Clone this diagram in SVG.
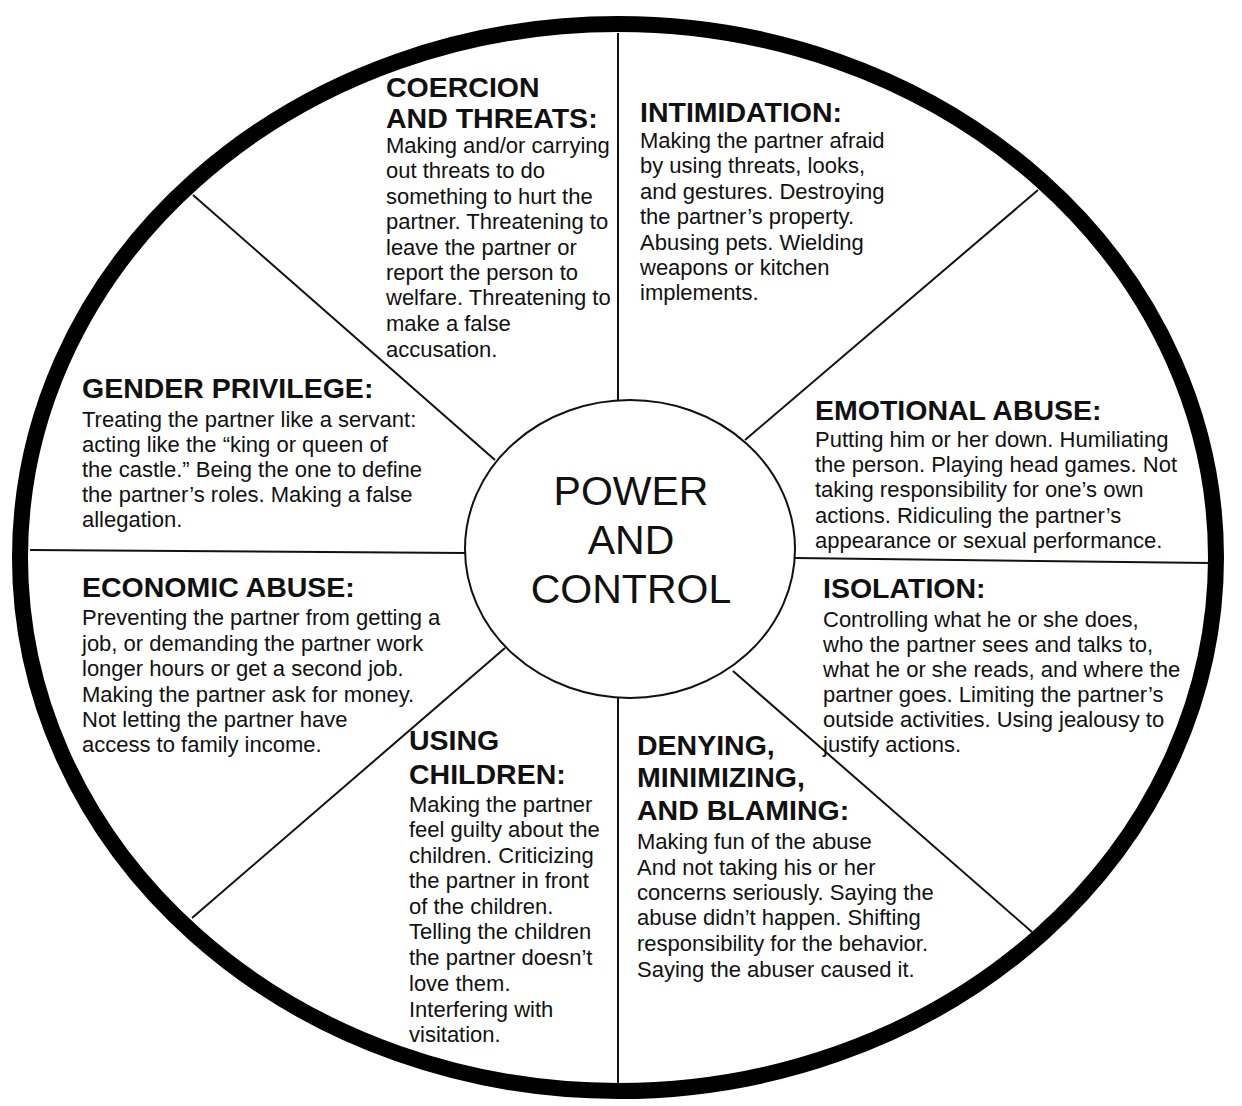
<svg xmlns="http://www.w3.org/2000/svg" width="1242" height="1106" viewBox="0 0 1242 1106">
<style>
.h{font-family:"Liberation Sans",Arial,sans-serif;font-weight:bold;font-size:28.5px;fill:#111}
.b{font-family:"Liberation Sans",Arial,sans-serif;font-size:22px;fill:#111}
.c{font-family:"Liberation Sans",Arial,sans-serif;font-size:41px;fill:#111;text-anchor:middle}
.sp{stroke:#111;stroke-width:2;fill:none}
</style>
<rect width="1242" height="1106" fill="#fff"/>
<g id="wheel">
<ellipse cx="618" cy="557.5" rx="598" ry="533.5" fill="none" stroke="#000" stroke-width="16"/>
</g>
<g id="connectors">
<line class="sp" x1="618" y1="33" x2="618" y2="400"/>
<line class="sp" x1="618" y1="698" x2="618" y2="1083"/>
<line class="sp" x1="30" y1="550" x2="465" y2="553"/>
<line class="sp" x1="795" y1="558" x2="1210" y2="563"/>
<line class="sp" x1="193" y1="195" x2="495" y2="460"/>
<line class="sp" x1="745" y1="440" x2="1038" y2="190"/>
<line class="sp" x1="505" y1="648" x2="192" y2="918"/>
<line class="sp" x1="733" y1="671" x2="1032" y2="932"/>
</g>
<g id="center">
<ellipse cx="630" cy="549" rx="165" ry="149" fill="#fff" stroke="#111" stroke-width="2"/>
<text class="c"><tspan x="631" y="505">POWER</tspan><tspan x="631" y="554">AND</tspan><tspan x="631" y="603">CONTROL</tspan></text>
</g>
<g id="coercion">
<text class="h"><tspan x="386" y="97">COERCION</tspan><tspan x="386" y="128">AND THREATS:</tspan></text>
<text class="b"><tspan x="386" y="153">Making and/or carrying</tspan><tspan x="386" y="178">out threats to do</tspan><tspan x="386" y="204">something to hurt the</tspan><tspan x="386" y="229">partner. Threatening to</tspan><tspan x="386" y="255">leave the partner or</tspan><tspan x="386" y="280">report the person to</tspan><tspan x="386" y="305">welfare. Threatening to</tspan><tspan x="386" y="331">make a false</tspan><tspan x="386" y="357">accusation.</tspan></text>
</g>
<g id="intimidation">
<text class="h"><tspan x="640" y="122">INTIMIDATION:</tspan></text>
<text class="b"><tspan x="640" y="148">Making the partner afraid</tspan><tspan x="640" y="173">by using threats, looks,</tspan><tspan x="640" y="199">and gestures. Destroying</tspan><tspan x="640" y="224">the partner’s property.</tspan><tspan x="640" y="250">Abusing pets. Wielding</tspan><tspan x="640" y="275">weapons or kitchen</tspan><tspan x="640" y="300">implements.</tspan></text>
</g>
<g id="emotional">
<text class="h"><tspan x="815" y="420">EMOTIONAL ABUSE:</tspan></text>
<text class="b"><tspan x="815" y="447">Putting him or her down. Humiliating</tspan><tspan x="815" y="472">the person. Playing head games. Not</tspan><tspan x="815" y="497">taking responsibility for one’s own</tspan><tspan x="815" y="523">actions. Ridiculing the partner’s</tspan><tspan x="815" y="548">appearance or sexual performance.</tspan></text>
</g>
<g id="isolation">
<text class="h"><tspan x="823" y="598">ISOLATION:</tspan></text>
<text class="b"><tspan x="823" y="627">Controlling what he or she does,</tspan><tspan x="823" y="652">who the partner sees and talks to,</tspan><tspan x="823" y="677">what he or she reads, and where the</tspan><tspan x="823" y="702">partner goes. Limiting the partner’s</tspan><tspan x="823" y="727">outside activities. Using jealousy to</tspan><tspan x="823" y="752">justify actions.</tspan></text>
</g>
<g id="denying">
<text class="h"><tspan x="637" y="755">DENYING,</tspan><tspan x="637" y="787">MINIMIZING,</tspan><tspan x="637" y="820">AND BLAMING:</tspan></text>
<text class="b"><tspan x="637" y="849">Making fun of the abuse</tspan><tspan x="637" y="875">And not taking his or her</tspan><tspan x="637" y="900">concerns seriously. Saying the</tspan><tspan x="637" y="925">abuse didn’t happen. Shifting</tspan><tspan x="637" y="951">responsibility for the behavior.</tspan><tspan x="637" y="977">Saying the abuser caused it.</tspan></text>
</g>
<g id="children">
<text class="h"><tspan x="409" y="750">USING</tspan><tspan x="409" y="784">CHILDREN:</tspan></text>
<text class="b"><tspan x="409" y="812">Making the partner</tspan><tspan x="409" y="837">feel guilty about the</tspan><tspan x="409" y="863">children. Criticizing</tspan><tspan x="409" y="888">the partner in front</tspan><tspan x="409" y="914">of the children.</tspan><tspan x="409" y="939">Telling the children</tspan><tspan x="409" y="965">the partner doesn’t</tspan><tspan x="409" y="991">love them.</tspan><tspan x="409" y="1017">Interfering with</tspan><tspan x="409" y="1042">visitation.</tspan></text>
</g>
<g id="economic">
<text class="h"><tspan x="82" y="597">ECONOMIC ABUSE:</tspan></text>
<text class="b"><tspan x="82" y="625">Preventing the partner from getting a</tspan><tspan x="82" y="651">job, or demanding the partner work</tspan><tspan x="82" y="676">longer hours or get a second job.</tspan><tspan x="82" y="702">Making the partner ask for money.</tspan><tspan x="82" y="727">Not letting the partner have</tspan><tspan x="82" y="752">access to family income.</tspan></text>
</g>
<g id="gender">
<text class="h"><tspan x="82" y="398">GENDER PRIVILEGE:</tspan></text>
<text class="b"><tspan x="82" y="427">Treating the partner like a servant:</tspan><tspan x="82" y="452">acting like the “king or queen of</tspan><tspan x="82" y="477">the castle.” Being the one to define</tspan><tspan x="82" y="502">the partner’s roles. Making a false</tspan><tspan x="82" y="527">allegation.</tspan></text>
</g>
</svg>
